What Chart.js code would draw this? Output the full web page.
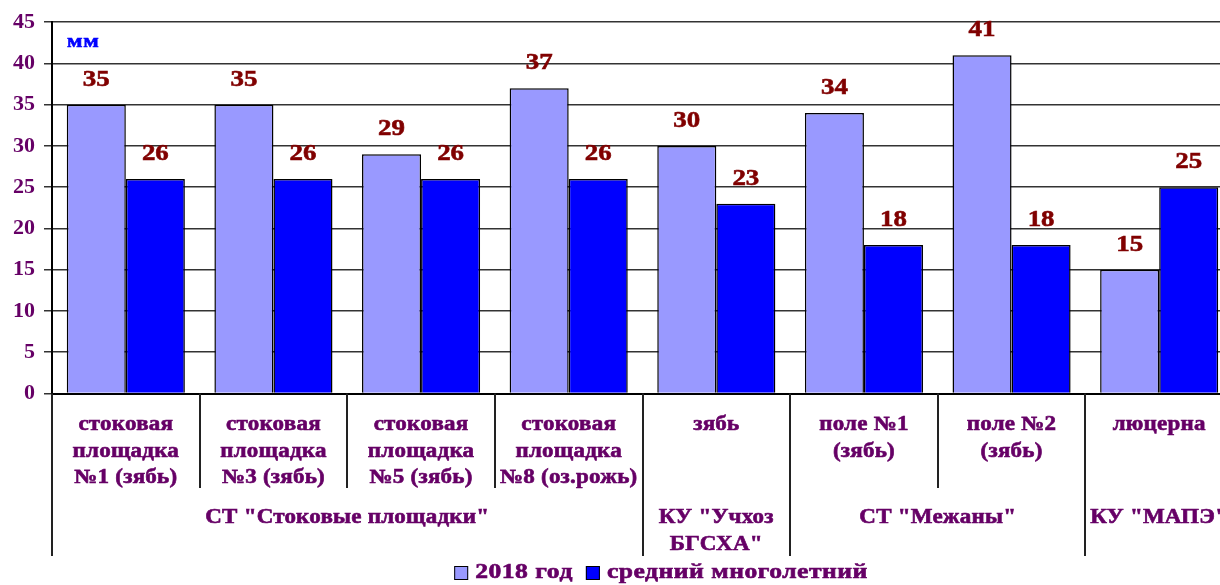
<!DOCTYPE html>
<html>
<head>
<meta charset="utf-8">
<script src="https://cdn.jsdelivr.net/npm/chart.js@4/dist/chart.umd.min.js"></script>
<style>
  html, body { margin: 0; padding: 0; background: #fff; overflow: hidden; }
  #wrap { width: 1220px; height: 585px; overflow: hidden; }
</style>
</head>
<body>
<div id="wrap"><canvas id="chart" width="1236" height="585"></canvas></div>
<script>
// chart data
const categories = [
    ['стоковая', 'площадка', '№1 (зябь)'],
    ['стоковая', 'площадка', '№3 (зябь)'],
    ['стоковая', 'площадка', '№5 (зябь)'],
    ['стоковая', 'площадка', '№8 (оз.рожь)'],
    ['зябь'],
    ['поле №1', '(зябь)'],
    ['поле №2', '(зябь)'],
    ['люцерна']
];
const groupLabels = [['СТ "Стоковые площадки"'], ['КУ "Учхоз', 'БГСХА"'], ['СТ "Межаны"'], ['КУ "МАПЭ"']];
const groupSizes = [4, 1, 2, 1]; // how many categories each group covers
const values2018 = [35, 35, 29, 37, 30, 34, 41, 15];
const valuesAvg = [26, 26, 26, 26, 23, 18, 18, 25];
const seriesNames = ['2018 год', 'средний многолетний'];
const unitLabel = 'мм';

const FONT = '"Liberation Serif", "Times New Roman", serif';
const TEXT_COLOR = '#660066';

// the original text is wider and heavier than Liberation Serif, so stretch it a bit
function wideText(ctx, text, x, y, sx, spacing) {
    ctx.save();
    ctx.letterSpacing = spacing + 'px';
    ctx.translate(x, y);
    ctx.scale(sx, 1);
    ctx.strokeStyle = ctx.fillStyle;
    ctx.lineWidth = 0.6;
    ctx.fillText(text, 0, 0);
    ctx.strokeText(text, 0, 0);
    ctx.restore();
}

function wideWidth(ctx, text, sx, spacing) {
    ctx.save();
    ctx.letterSpacing = spacing + 'px';
    const w = ctx.measureText(text).width * sx;
    ctx.restore();
    return w;
}

// draws value labels, the two-level category axis, unit and legend
const decorPlugin = {
    id: 'decor',
    afterDatasetsDraw(chart) {
        const ctx = chart.ctx;
        ctx.save();
        ctx.font = 'bold 24px ' + FONT;
        ctx.fillStyle = '#800000';
        ctx.textAlign = 'center';
        ctx.textBaseline = 'middle';
        chart.data.datasets.forEach((ds, di) => {
            chart.getDatasetMeta(di).data.forEach((bar, i) => {
                wideText(ctx, String(ds.data[i]), bar.x, bar.y - 25, 1.12, 0);
            });
        });
        ctx.restore();
    },
    afterDraw(chart) {
        const ctx = chart.ctx;
        const area = chart.chartArea;
        const xs = chart.scales.x;
        const catW = (area.right - area.left) / categories.length;
        const bottom = area.bottom;

        ctx.save();
        // unit label
        ctx.font = 'bold 19px ' + FONT;
        ctx.fillStyle = '#0000ff';
        ctx.textAlign = 'left';
        ctx.textBaseline = 'middle';
        wideText(ctx, unitLabel, area.left + 15, area.top + 20, 1.2, 0.5);

        // separators below the axis
        ctx.strokeStyle = '#222';
        ctx.lineWidth = 2;
        const groupEdges = [0];
        groupSizes.reduce((acc, n) => { groupEdges.push(acc + n); return acc + n; }, 0);
        for (let i = 0; i < categories.length; i++) {
            const x = Math.round(area.left + i * catW);
            const long = groupEdges.includes(i);
            ctx.beginPath();
            ctx.moveTo(x, bottom);
            ctx.lineTo(x, long ? 556 : 488);
            ctx.stroke();
        }

        // category labels
        ctx.fillStyle = TEXT_COLOR;
        ctx.font = 'bold 20px ' + FONT;
        ctx.textAlign = 'center';
        categories.forEach((lines, i) => {
            const cx = xs.getPixelForValue(i);
            lines.forEach((line, j) => {
                wideText(ctx, line, cx, 425 + j * 26.5, 1.15, 0.2);
            });
        });

        // group labels
        let start = 0;
        groupSizes.forEach((n, g) => {
            const cx = area.left + (start + n / 2) * catW;
            groupLabels[g].forEach((line, j) => {
                wideText(ctx, line, cx, 518 + j * 27, 1.15, 0.2);
            });
            start += n;
        });

        // legend
        ctx.font = 'bold 20px ' + FONT;
        const sq = 14, gap = 7, spacing = 13, sx = 1.28, ls = 0.4;
        const w1 = wideWidth(ctx, seriesNames[0], sx, ls);
        const w2 = wideWidth(ctx, seriesNames[1], sx, ls);
        const total = sq + gap + w1 + spacing + sq + gap + w2;
        let lx = 661 - total / 2;
        const ly = 573;
        ctx.textAlign = 'left';
        chart.data.datasets.forEach((ds, di) => {
            ctx.fillStyle = ds.backgroundColor;
            ctx.fillRect(lx, ly - sq / 2, sq, sq);
            ctx.strokeStyle = '#000';
            ctx.lineWidth = 1;
            ctx.strokeRect(lx + 0.5, ly - sq / 2 + 0.5, sq - 1, sq - 1);
            lx += sq + gap;
            ctx.fillStyle = TEXT_COLOR;
            wideText(ctx, seriesNames[di], lx, ly, sx, ls);
            lx += (di === 0 ? w1 : w2) + spacing;
        });
        ctx.restore();
    }
};

const ctx = document.getElementById('chart').getContext('2d');
const chartInstance = new Chart(ctx, {
    type: 'bar',
    data: {
        labels: categories.map(c => c.join(' ')),
        datasets: [
            {
                label: seriesNames[0],
                data: values2018,
                backgroundColor: '#9999ff',
                borderColor: '#000',
                borderWidth: 1.5,
                categoryPercentage: 0.8,
                barPercentage: 1.0
            },
            {
                label: seriesNames[1],
                data: valuesAvg,
                backgroundColor: '#0000ff',
                borderColor: '#000',
                borderWidth: 1.5,
                categoryPercentage: 0.8,
                barPercentage: 1.0
            }
        ]
    },
    options: {
        responsive: false,
        animation: false,
        devicePixelRatio: 1,
        layout: { padding: { top: 20.5, right: 3, left: 0, bottom: 0 } },
        plugins: {
            legend: { display: false },
            tooltip: { enabled: false }
        },
        scales: {
            x: {
                grid: { display: false },
                ticks: { display: false },
                border: { display: true, color: '#000', width: 2 },
                afterFit(scale) { scale.height = 191.5; }
            },
            y: {
                min: 0,
                max: 45,
                ticks: {
                    stepSize: 5,
                    color: TEXT_COLOR,
                    padding: 9,
                    font: { family: FONT, size: 22, weight: 'bold' }
                },
                grid: { color: '#333', lineWidth: 1.5, tickLength: 8 },
                border: { display: true, color: '#000', width: 2 },
                afterFit(scale) { scale.width = 52; }
            }
        }
    },
    plugins: [decorPlugin]
});
</script>
</body>
</html>
